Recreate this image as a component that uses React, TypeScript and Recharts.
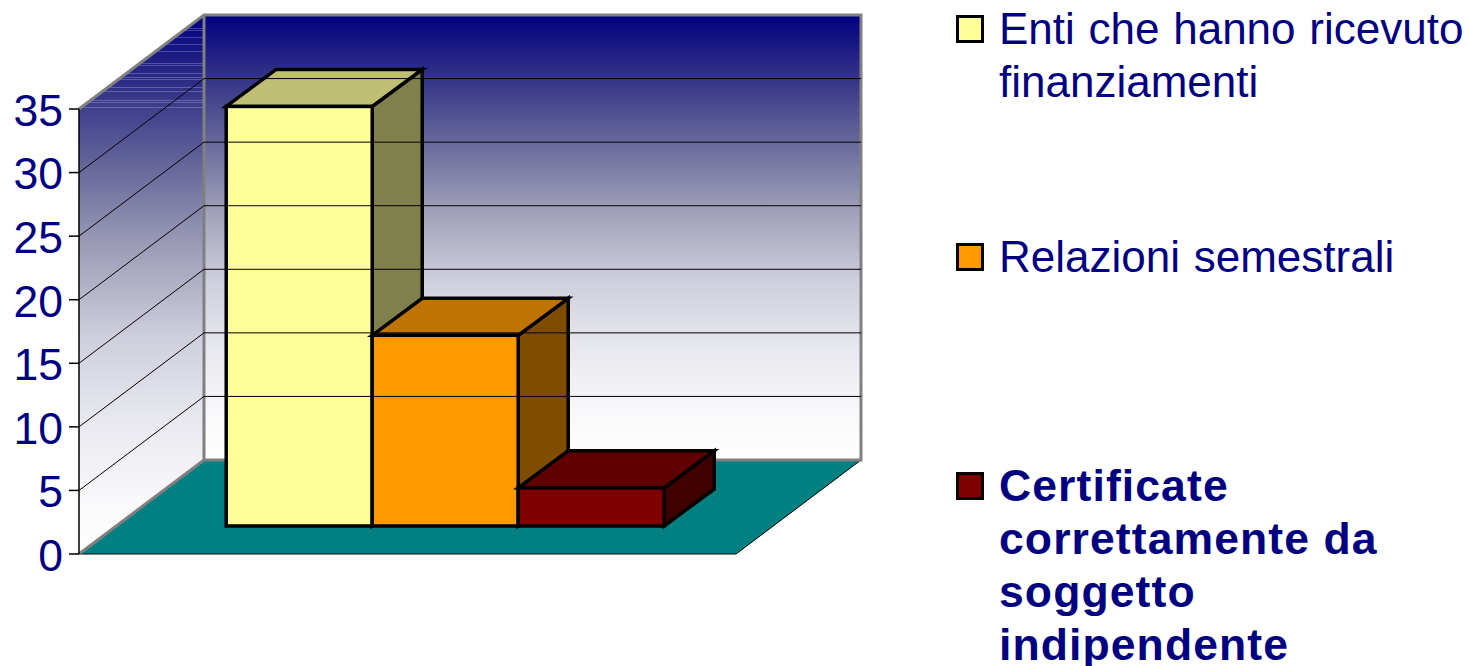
import React from "react";
import { BarChart, Bar, XAxis, YAxis, Legend, ReferenceArea, ReferenceLine } from "recharts";

const categories = ["2004"];
const seriesNames = [
  "Enti che hanno ricevuto finanziamenti",
  "Relazioni semestrali",
  "Certificate correttamente da soggetto indipendente",
];
const seriesValues = [33, 15, 3];
const seriesKeys = ["enti", "relazioni", "certificate"];
const yTicks = [0, 5, 10, 15, 20, 25, 30, 35];
const gridValues = [5, 10, 15, 20, 25, 30];

const frontColors = ["#ffff99", "#ff9900", "#800000"];
const topColors = ["#bfbf73", "#bf7300", "#600000"];
const sideColors = ["#80804d", "#804d00", "#400000"];

const NAVY = "#000080";
const FONT = "'Liberation Sans', Arial, sans-serif";

// the 3d box: how far the back wall sits behind the axis plane
const WALL_DX = 125;
const WALL_DY = -94;
// bars stand in the middle of the floor
const BAR_DX = 37.5;
const BAR_DY = -28;
const BAR_DEPTH_X = 50;
const BAR_DEPTH_Y = -37;

// banding left by the gradient on the side wall, measured down from its top corner
const SIDE_STREAKS = [13, 15, 22, 29, 36, 48, 50, 58, 62, 64, 72, 76, 85, 87, 92];

const chartData = categories.map((name) => {
  const row: Record<string, string | number> = { name };
  seriesKeys.forEach((key, i) => {
    row[key] = seriesValues[i];
  });
  return row;
});

function Walls(props: any) {
  const { x, y, width, height } = props;
  const bottom = y + height;
  const bx = x + WALL_DX;
  const by = y + WALL_DY;
  const bBottom = bottom + WALL_DY;
  const stops = [
    [0, "#000080"],
    [0.14, "#333388"],
    [0.28, "#66669a"],
    [0.42, "#9999b5"],
    [0.6, "#cfcfdd"],
    [0.75, "#e8e8ef"],
    [0.9, "#f9f9fb"],
    [1, "#ffffff"],
  ];
  const wallSlope = WALL_DX / -WALL_DY;
  return (
    <g>
      <defs>
        <linearGradient id="backWall" gradientUnits="userSpaceOnUse" x1="0" y1={by} x2="0" y2={bBottom}>
          {stops.map(([o, c]) => (
            <stop key={o} offset={o} stopColor={c as string} />
          ))}
        </linearGradient>
        <linearGradient id="sideWall" gradientUnits="userSpaceOnUse" x1="0" y1={by} x2="0" y2={bottom}>
          {stops.map(([o, c]) => (
            <stop key={o} offset={o} stopColor={c as string} />
          ))}
        </linearGradient>
      </defs>
      <polygon
        points={`${x},${y} ${bx},${by} ${bx},${bBottom} ${x},${bottom}`}
        fill="url(#sideWall)"
      />
      {SIDE_STREAKS.map((d) => (
        <line
          key={d}
          x1={bx - d * wallSlope}
          y1={by + d + 0.5}
          x2={bx}
          y2={by + d + 0.5}
          stroke="#fff"
          strokeOpacity={0.22}
          strokeWidth={1}
        />
      ))}
      <rect x={bx} y={by} width={width} height={height} fill="url(#backWall)" />
      <polygon
        points={`${x},${bottom} ${bx},${bBottom} ${bx + width},${bBottom} ${x + width},${bottom}`}
        fill="#008080"
      />
      <polyline
        points={`${bx + width},${bBottom} ${x + width},${bottom} ${x},${bottom}`}
        fill="none"
        stroke="#000"
        strokeWidth={1}
      />
      <polyline
        points={`${x},${y} ${bx},${by} ${bx + width},${by} ${bx + width},${bBottom} ${bx},${bBottom} ${x},${bottom}`}
        fill="none"
        stroke="#808080"
        strokeWidth={3}
      />
      <line x1={bx} y1={by} x2={bx} y2={bBottom} stroke="#808080" strokeWidth={3} />
    </g>
  );
}

function GridLine(props: any) {
  const { x1, y1, x2 } = props;
  const backY = y1 + WALL_DY;
  return (
    <polyline
      points={`${x1},${y1} ${x1 + WALL_DX},${backY} ${x2 + WALL_DX},${backY}`}
      fill="none"
      stroke="#000"
      strokeWidth={1}
    />
  );
}

function Box3D(props: any) {
  const { x, y, width, height, index3d } = props;
  const l = x + BAR_DX;
  const r = l + width;
  const t = y + BAR_DY;
  const b = t + height;
  const common = { stroke: "#000", strokeWidth: 3.5, strokeLinejoin: "miter" as const };
  return (
    <g>
      <polygon
        points={`${r},${t} ${r + BAR_DEPTH_X},${t + BAR_DEPTH_Y} ${r + BAR_DEPTH_X},${b + BAR_DEPTH_Y} ${r},${b}`}
        fill={sideColors[index3d]}
        {...common}
      />
      <polygon
        points={`${l},${t} ${l + BAR_DEPTH_X},${t + BAR_DEPTH_Y} ${r + BAR_DEPTH_X},${t + BAR_DEPTH_Y} ${r},${t}`}
        fill={topColors[index3d]}
        {...common}
      />
      <rect x={l} y={t} width={width} height={height} fill={frontColors[index3d]} {...common} />
    </g>
  );
}

const LEGEND_TOPS = [2, 230, 459];
const SWATCH_TOPS = [15, 243, 472];

function ChartLegend() {
  return (
    <div style={{ position: "relative", width: 520, height: 666 }}>
      {seriesNames.map((name, i) => (
        <React.Fragment key={name}>
          <div
            style={{
              position: "absolute",
              left: 7,
              top: SWATCH_TOPS[i],
              width: 22,
              height: 22,
              background: frontColors[i],
              border: "3px solid #000",
            }}
          />
          <div
            style={{
              position: "absolute",
              left: 50,
              top: LEGEND_TOPS[i],
              fontFamily: FONT,
              fontSize: i === 2 ? 44.5 : 44,
              lineHeight: "53px",
              color: NAVY,
              fontWeight: i === 2 ? 700 : 400,
              letterSpacing: i === 2 ? 1.1 : 0,
              wordSpacing: i === 2 ? 0 : 1.5,
              width: 470,
            }}
          >
            {name}
          </div>
        </React.Fragment>
      ))}
    </div>
  );
}

export default function App() {
  return (
    <div style={{ position: "absolute", left: 0, top: 0, width: 1470, height: 666, background: "#fff", overflow: "hidden" }}>
      <BarChart
        width={1470}
        height={666}
        data={chartData}
        margin={{ top: 109, right: 734, bottom: 112, left: 0 }}
        barCategoryGap="16.7%"
        barGap={0}
      >
        <ReferenceArea y1={0} y2={35} shape={<Walls />} ifOverflow="visible" />
        {gridValues.map((v) => (
          <ReferenceLine key={v} y={v} shape={<GridLine />} ifOverflow="visible" />
        ))}
        <XAxis dataKey="name" hide />
        <YAxis
          width={79}
          domain={[0, 35]}
          ticks={yTicks}
          interval={0}
          tickSize={10}
          tickMargin={6}
          axisLine={{ stroke: "#000", strokeWidth: 1.5 }}
          tickLine={{ stroke: "#000", strokeWidth: 1.5 }}
          tick={{ fontSize: 44.5, fill: NAVY, fontFamily: FONT, dy: 1 }}
        />
        {seriesKeys.map((key, i) => (
          <Bar
            key={key}
            dataKey={key}
            name={seriesNames[i]}
            fill={frontColors[i]}
            isAnimationActive={false}
            shape={(p: any) => <Box3D {...p} index3d={i} />}
          />
        ))}
        <Legend
          layout="horizontal"
          align="center"
          verticalAlign="middle"
          content={<ChartLegend />}
          wrapperStyle={{ left: 949, top: 0, width: 520, height: 666, margin: 0 }}
        />
      </BarChart>
    </div>
  );
}
